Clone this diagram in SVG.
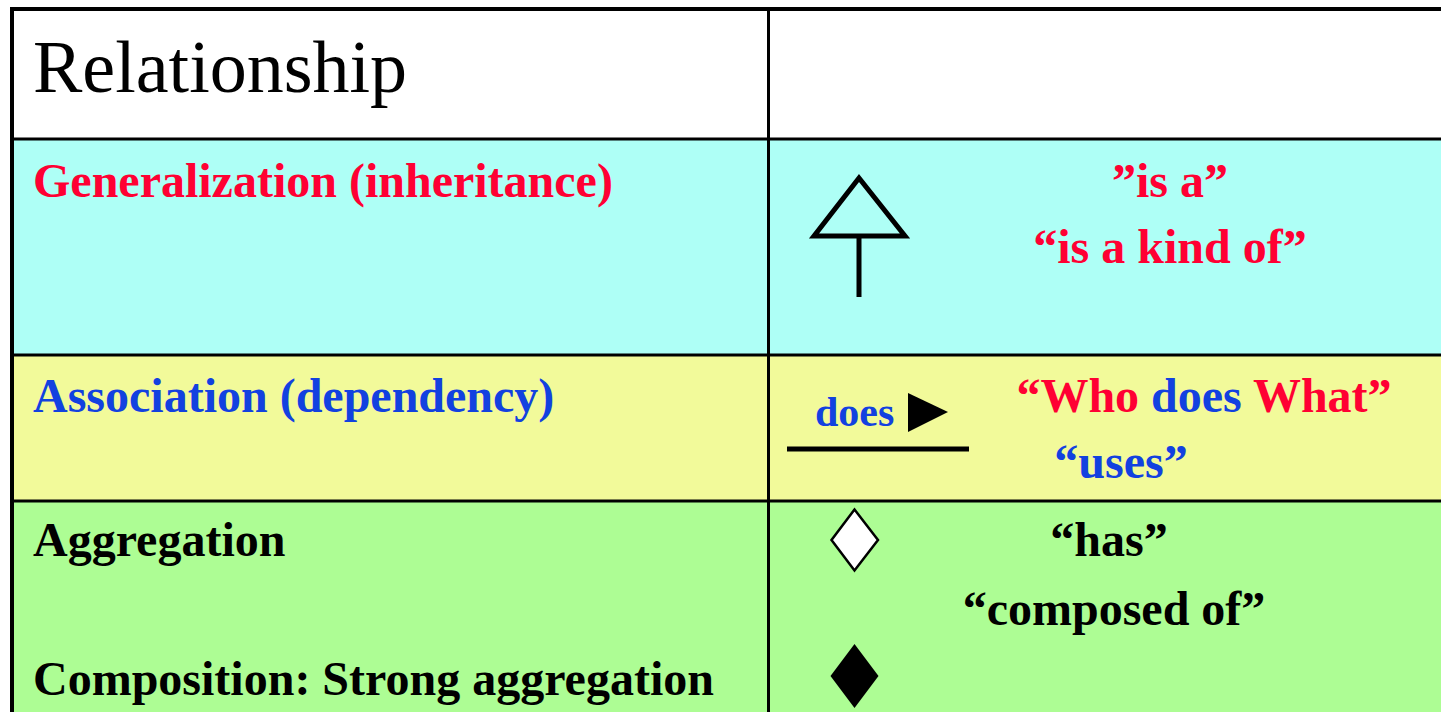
<svg xmlns="http://www.w3.org/2000/svg" width="1441" height="712" viewBox="0 0 1441 712">
  <style>
    .head { font-family: "Liberation Serif", "Times New Roman", serif; font-size: 74px; fill: #000; }
    .lbl { font-family: "Liberation Serif", "Times New Roman", serif; font-size: 48px; font-weight: bold; }
    .mid { text-anchor: middle; }
    .red { fill: #ff0033; }
    .blue { fill: #1241e0; }
    .black { fill: #000; }
    .rule { stroke: #000; stroke-width: 3; fill: none; }
    .sym { stroke: #000; stroke-width: 5; fill: none; stroke-linejoin: miter; }
  </style>

  <!-- row backgrounds -->
  <g id="rows">
    <rect x="12" y="9" width="1429" height="130" fill="#ffffff"/>
    <rect x="12" y="139" width="1429" height="216" fill="#aefff6"/>
    <rect x="12" y="355" width="1429" height="146" fill="#f2fa9a"/>
    <rect x="12" y="501" width="1429" height="211" fill="#adfd94"/>
  </g>

  <!-- table rules -->
  <g id="grid">
    <line class="rule" x1="12" y1="139" x2="1441" y2="139"/>
    <line class="rule" x1="12" y1="355" x2="1441" y2="355"/>
    <line class="rule" x1="12" y1="501" x2="1441" y2="501"/>
    <line class="rule" x1="768.5" y1="9" x2="768.5" y2="712"/>
    <line stroke="#000" stroke-width="4" x1="10" y1="9" x2="1441" y2="9"/>
    <line stroke="#000" stroke-width="4" x1="12" y1="7" x2="12" y2="712"/>
  </g>

  <!-- header row -->
  <g id="header">
    <text class="head" x="33" y="92">Relationship</text>
  </g>

  <!-- generalization row -->
  <g id="generalization">
    <text class="lbl red" x="33" y="197">Generalization (inheritance)</text>
    <g id="gen-symbol">
      <polygon class="sym" points="859,178 814,236 905,236"/>
      <line class="sym" x1="859" y1="236" x2="859" y2="297"/>
    </g>
    <text class="lbl red mid" x="1170" y="197">”is a”</text>
    <text class="lbl red mid" x="1170" y="263">“is a kind of”</text>
  </g>

  <!-- association row -->
  <g id="association">
    <text class="lbl blue" x="33" y="412">Association (dependency)</text>
    <g id="assoc-symbol">
      <text class="lbl blue" x="815" y="426" style="font-size:42px">does</text>
      <polygon points="908,393 948,412 908,432" fill="#000"/>
      <line stroke="#000" stroke-width="5" x1="787" y1="449" x2="969" y2="449"/>
    </g>
    <text class="lbl mid" x="1204" y="412"><tspan class="red">“Who </tspan><tspan class="blue">does </tspan><tspan class="red">What”</tspan></text>
    <text class="lbl blue mid" x="1121" y="478">“uses”</text>
  </g>

  <!-- aggregation / composition row -->
  <g id="aggregation">
    <text class="lbl black" x="33" y="556">Aggregation</text>
    <text class="lbl black" x="33" y="695">Composition: Strong aggregation</text>
    <polygon points="854.5,509.5 878,540 854.5,570.5 831.5,540" fill="#ffffff" stroke="#000" stroke-width="2.5"/>
    <polygon points="854.5,644 878.5,676 854.5,708 830.5,676" fill="#000"/>
    <text class="lbl black mid" x="1109" y="556">“has”</text>
    <text class="lbl black mid" x="1114" y="625">“composed of”</text>
  </g>
</svg>
